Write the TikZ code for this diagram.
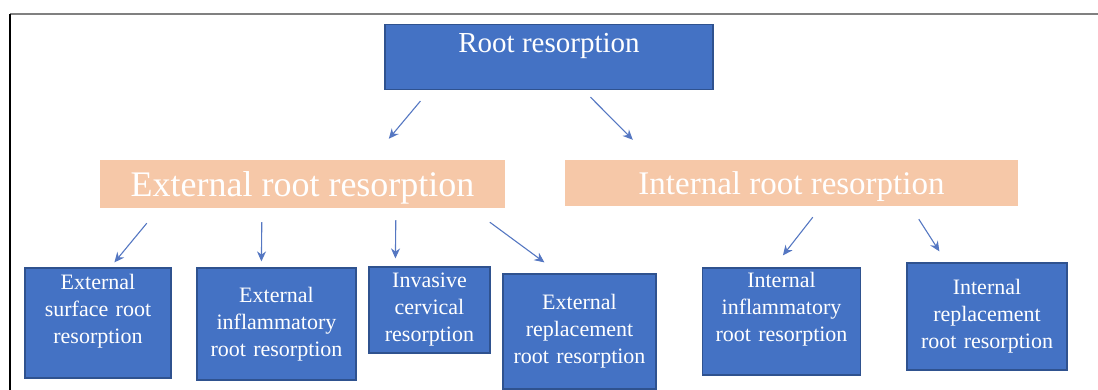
\documentclass[tikz,border=0pt]{standalone}
\usepackage{fontspec}
\setmainfont{Liberation Serif}
\usepackage{tikz}
\usetikzlibrary{arrows.meta, positioning}
\definecolor{boxblue}{HTML}{4472C4}
\definecolor{boxline}{HTML}{2F528F}
\definecolor{peach}{HTML}{F6C8A8}
\definecolor{arrowblue}{HTML}{5577C2}
\definecolor{framegray}{HTML}{808080}
\tikzset{
    topbox/.style={rectangle, draw=boxline, fill=boxblue, line width=1.2pt, text=white, inner sep=3pt, font=\fontsize{29}{33}\selectfont},
    groupbox/.style={rectangle, fill=peach, text=white, inner sep=0pt},
    leafbox/.style={rectangle, draw=boxline, fill=boxblue, line width=1.2pt, text=white, align=center, inner sep=3pt, font=\fontsize{22}{27}\selectfont},
    link/.style={draw=arrowblue, line width=1.1pt, -{Stealth[length=10pt, width=9pt]}}
}

\begin{document}
\begin{tikzpicture}[x=1pt, y=-1pt]
    \useasboundingbox (0,0) rectangle (1098,390);
    % Frame
    \draw[framegray, line width=2pt] (10,14) -- (1098,14);
    \draw[black, line width=1.5pt] (10,14) -- (10,390);

    % Root
    \node[topbox, minimum width=328pt, minimum height=65pt, text height=21pt, text depth=30pt] (root) at (549,57) {Root resorption};

    % Main groups
    \node[groupbox, minimum width=405pt, minimum height=48pt, text height=25pt, text depth=0pt, font=\fontsize{36}{40}\selectfont] (ext) at (302.5,184) {External root resorption};
    \node[groupbox, minimum width=453pt, minimum height=46pt, text height=23pt, text depth=0pt, font=\fontsize{33}{37}\selectfont] (int) at (791.5,183) {Internal root resorption};

    % Leaves (external)
    \node[leafbox, text width=140pt, minimum height=110pt] (esrr) at (98,323) {External\\surface root\\resorption\par\vspace*{24pt}};
    \node[leafbox, text width=153pt, minimum height=112pt] (eirr) at (276.5,324) {External\\inflammatory\\root resorption};
    \node[leafbox, text width=115pt, minimum height=86pt] (icr) at (429.5,310) {Invasive\\cervical\\resorption};
    \node[leafbox, text width=147pt, minimum height=115pt] (errr) at (579.5,331.5) {External\\replacement\\root resorption};

    % Leaves (internal)
    \node[leafbox, text width=152pt, minimum height=107pt] (iirr) at (781.5,321.5) {Internal\\inflammatory\\root resorption\par\vspace*{24pt}};
    \node[leafbox, text width=154pt, minimum height=107pt] (irrr) at (987,316.5) {Internal\\replacement\\root resorption};

    % Arrows
    \draw[link] ([shift={(36,11)}]root.south west) -- ([shift={(289,-21)}]ext.north west);
    \draw[link] ([shift={(206,7)}]root.south west) -- ([shift={(68,-20)}]int.north west);

    \draw[link] ([shift={(47,15)}]ext.south west) -- ([shift={(90,-5)}]esrr.north west);
    \draw[link] ([shift={(162,14)}]ext.south west) -- ([shift={(65,-6)}]eirr.north west);
    \draw[link] ([shift={(296,12)}]ext.south west) -- ([shift={(27,-8)}]icr.north west);
    \draw[link] ([shift={(390,14)}]ext.south west) -- ([shift={(42,-11)}]errr.north west);

    \draw[link] ([shift={(248,11)}]int.south west) -- ([shift={(81,-12)}]iirr.north west);
    \draw[link] ([shift={(354,13)}]int.south west) -- ([shift={(33,-11)}]irrr.north west);
\end{tikzpicture}
\end{document}
